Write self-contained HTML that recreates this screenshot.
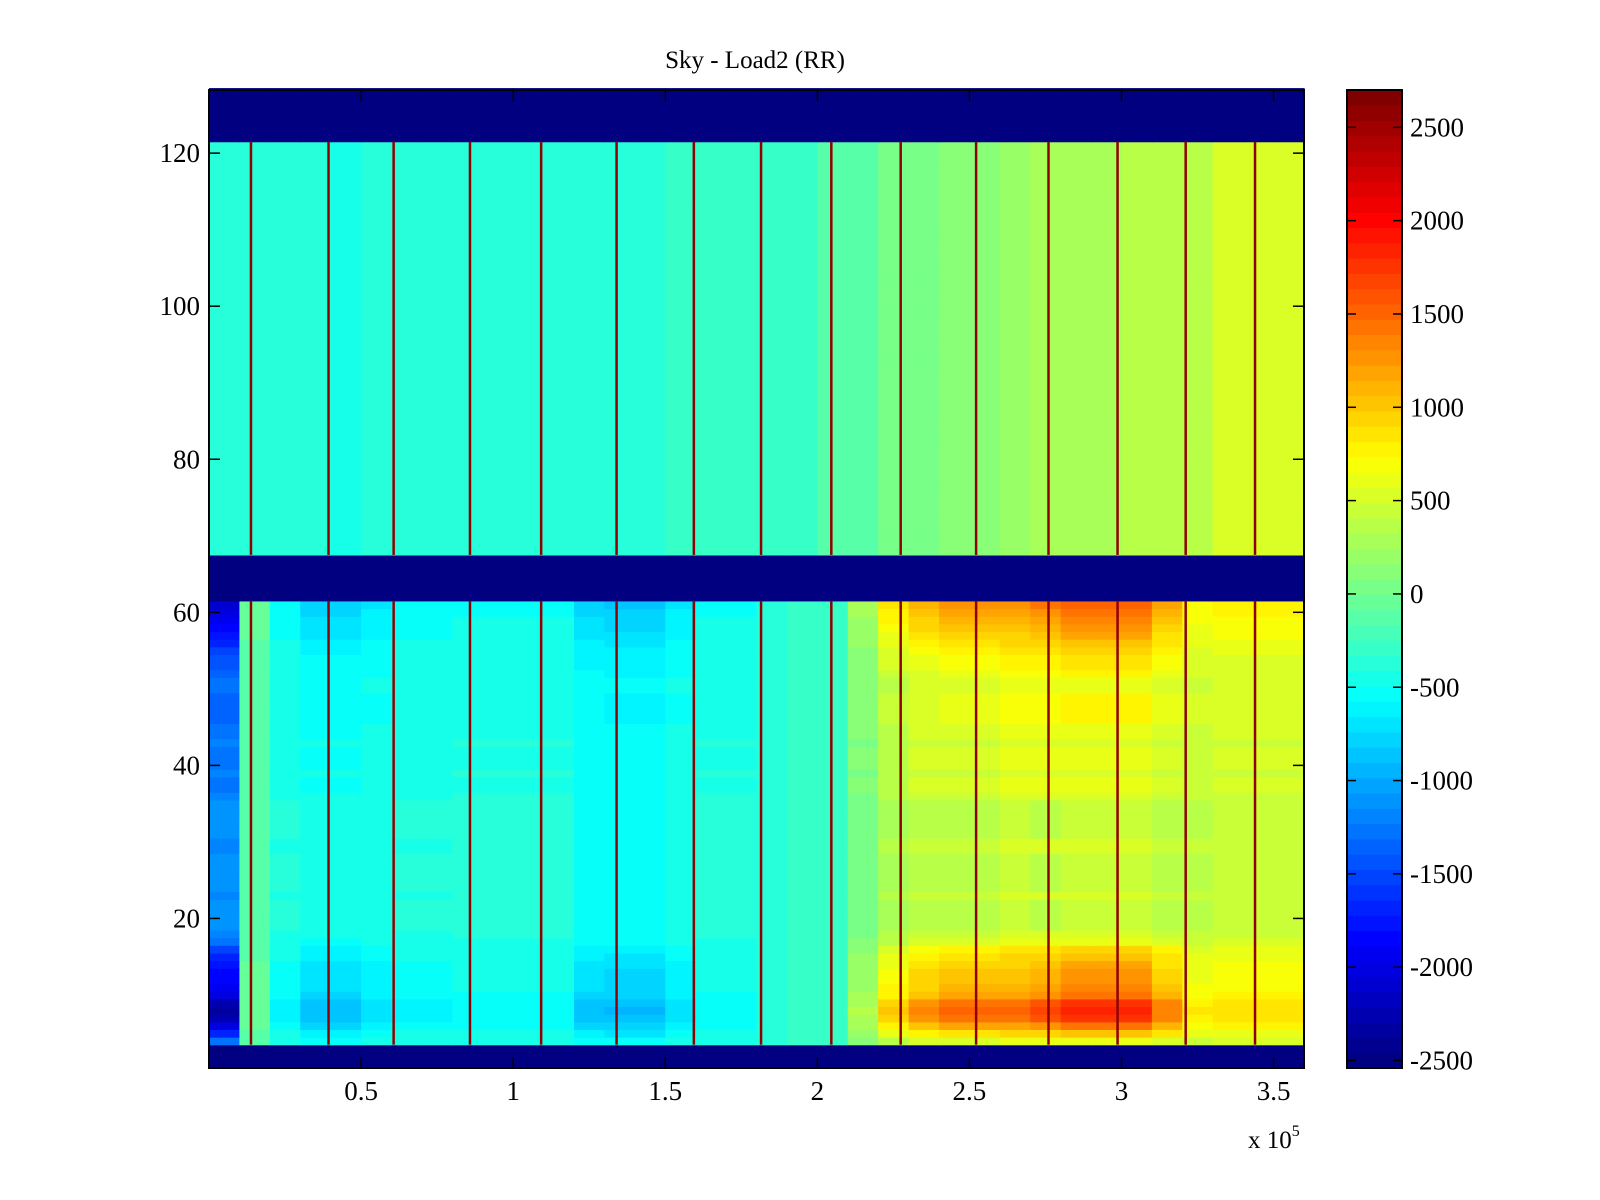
<!DOCTYPE html>
<html><head><meta charset="utf-8"><style>
html,body{margin:0;padding:0;background:#fff;}
svg{display:block;font-family:"Liberation Serif",serif;}
</style></head><body>
<svg id="chart" width="1600" height="1200" viewBox="0 0 1600 1200" xmlns="http://www.w3.org/2000/svg">
<text x="755" y="68" font-size="25" text-anchor="middle">Sky - Load2 (RR)</text>
<g id="cells"></g>
<g id="stripes"></g>
<rect x="209" y="90" width="1095" height="978" fill="none" stroke="#000" stroke-width="2"/>
<g id="xaxis"></g>
<g id="yaxis"></g>
<text x="1248" y="1148" font-size="25">x 10<tspan dy="-12" font-size="16">5</tspan></text>
<g id="cbar"></g>
</svg>
<script>
// ---- data ----
const xBinWidth = 10000; // 36 bins over 0..3.6e5
const upperMean = [-400,-400,-400,-400,-450,-400,-400,-400,-400,-400,-400,-350,-350,-350,-350,-300,-300,-300,-250,-250,-150,-100,0,50,100,150,200,250,300,300,350,350,400,500,550,550];
const lowerMean = [-1100,-150,-400,-450,-450,-450,-400,-400,-400,-400,-400,-400,-500,-500,-500,-450,-400,-400,-350,-300,-250,50,300,350,400,400,450,400,450,450,450,400,400,450,450,450];
const lowerColAmp = [-900,100,-150,-300,-300,-200,-150,-150,-100,-100,-100,-100,-250,-300,-300,-200,-100,-100,0,0,0,200,500,700,800,800,750,900,1000,1000,1000,700,300,300,300,300];
// lowerRowAmp for rows 4..61
const lowerRowAmp = [0.2,0.6,1.0,1.3,1.4,1.3,1.0,0.9,0.8,0.8,0.7,0.6,0.5,0.2,0.1,0.0,0.0,0.0,0.0,0.1,0.0,0.0,0.0,0.0,0.0,0.1,0.1,0.0,0.0,0.0,0.0,0.0,0.1,0.2,0.2,0.1,0.2,0.2,0.2,0.1,0.2,0.2,0.3,0.3,0.3,0.3,0.2,0.2,0.3,0.4,0.4,0.5,0.6,0.7,0.8,0.9,1.0,1.1];
const maskedRows = [[1,3],[62,67],[122,128]];
const stripeX = [13800,39300,60700,85800,109200,134000,159400,181500,204600,227400,252200,276000,298700,321100,343900];
const stripeVal = 2600;
const cTicks = [2500,2000,1500,1000,500,0,-500,-1000,-1500,-2000,-2500];
const xTicks = [0.5,1,1.5,2,2.5,3,3.5];
const yTicks = [20,40,60,80,100,120];
const cMin = -2540, cMax = 2700, maskVal = -2540;

// ---- axes ----
const X0=209,X1=1304,Y0=1068,Y1=90;
const xScale = v => X0 + (v/360000)*(X1-X0);
const yScale = r => 1071.5 - r*7.653;
function jet(v){
  let t=(v-cMin)/(cMax-cMin); t=Math.max(0,Math.min(1,t));
  t=Math.min(63,Math.floor(t*64))/63;
  const c=x=>Math.round(255*Math.max(0,Math.min(1,x)));
  return `rgb(${c(1.5-Math.abs(4*t-3))},${c(1.5-Math.abs(4*t-2))},${c(1.5-Math.abs(4*t-1))})`;
}
const NS='http://www.w3.org/2000/svg';
function mk(tag,attrs,parent){const e=document.createElementNS(NS,tag);for(const k in attrs)e.setAttribute(k,attrs[k]);parent.appendChild(e);return e;}
const isMasked = r => maskedRows.some(m=>r>=m[0]&&r<=m[1]);
function valueAt(r,c){
  if(isMasked(r)) return maskVal;
  if(r>=68) return upperMean[c];
  return lowerMean[c] + lowerRowAmp[r-4]*lowerColAmp[c];
}
const cells=document.getElementById('cells');
for(let r=1;r<=128;r++){
  for(let c=0;c<upperMean.length;c++){
    const x=xScale(c*xBinWidth), w=xScale((c+1)*xBinWidth)-x;
    const y=yScale(r+0.5), h=yScale(r-0.5)-y;
    const el=mk('rect',{x:x.toFixed(2),y:y.toFixed(2),width:(w+0.6).toFixed(2),height:(h+0.6).toFixed(2),fill:jet(valueAt(r,c))},cells);
    
    
  }
}
const stripes=document.getElementById('stripes');
const segs=[[4,61],[68,121]];
stripeX.forEach(sx=>{
  segs.forEach(s=>{
    const y=yScale(s[1]+0.5), h=yScale(s[0]-0.5)-y;
    const el=mk('rect',{x:(xScale(sx)-1.25).toFixed(2),y:y.toFixed(2),width:2.5,height:h.toFixed(2),fill:jet(stripeVal)},stripes);
    
    
  });
});
const xa=document.getElementById('xaxis');
xTicks.forEach(t=>{
  const x=xScale(t*1e5);
  mk('line',{x1:x,x2:x,y1:Y0,y2:Y0-11,stroke:'#000','stroke-width':1.5},xa);
  mk('line',{x1:x,x2:x,y1:Y1,y2:Y1+11,stroke:'#000','stroke-width':1.5},xa);
  const tx=mk('text',{x:x,y:1100,'font-size':27,'text-anchor':'middle'},xa);
  tx.textContent=String(t);
  
  
});
const ya=document.getElementById('yaxis');
yTicks.forEach(t=>{
  const y=yScale(t);
  mk('line',{x1:X0,x2:X0+11,y1:y,y2:y,stroke:'#000','stroke-width':1.5},ya);
  mk('line',{x1:X1,x2:X1-11,y1:y,y2:y,stroke:'#000','stroke-width':1.5},ya);
  const tx=mk('text',{x:200,y:y+9,'font-size':27,'text-anchor':'end'},ya);
  tx.textContent=String(t);
  
  
});
const cb=document.getElementById('cbar');
const CX0=1347,CX1=1402,CY0=1068,CY1=90;
const cY = v => CY0 - (v-cMin)/(cMax-cMin)*(CY0-CY1);
for(let i=0;i<64;i++){
  const v0=cMin+(cMax-cMin)*i/64, v1=cMin+(cMax-cMin)*(i+1)/64;
  const el=mk('rect',{x:CX0,y:cY(v1).toFixed(2),width:CX1-CX0,height:(cY(v0)-cY(v1)+0.6).toFixed(2),fill:jet((v0+v1)/2)},cb);
  
  
}
mk('rect',{x:CX0,y:CY1,width:CX1-CX0,height:CY0-CY1,fill:'none',stroke:'#000','stroke-width':2},cb);
cTicks.forEach(t=>{
  const y=cY(t);
  mk('line',{x1:CX0,x2:CX0+9,y1:y,y2:y,stroke:'#000','stroke-width':1.5},cb);
  mk('line',{x1:CX1,x2:CX1-9,y1:y,y2:y,stroke:'#000','stroke-width':1.5},cb);
  const tx=mk('text',{x:1410,y:y+9,'font-size':27},cb);
  tx.textContent=String(t);
  
  
});
</script>
</body></html>
